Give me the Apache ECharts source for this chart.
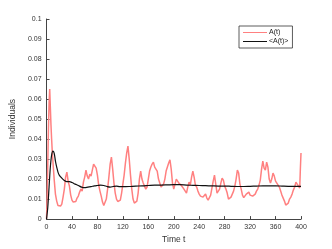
<!DOCTYPE html>
<html><head><meta charset="utf-8">
<script src="https://cdn.jsdelivr.net/npm/echarts@6/dist/echarts.min.js"></script>
<style>html,body{margin:0;padding:0;background:#fff}#c{width:332px;height:249px}</style>
</head><body><div id="c"></div>
<script>
var xTicks = [0,40,80,120,160,200,240,280,320,360,400];
var yTicks = ['0','0.01','0.02','0.03','0.04','0.05','0.06','0.07','0.08','0.09','0.1'];
var seriesNames = ['A(t)','<A(t)>'];
var tA = [0,1,2,3,4,5,6,7,8,9,10,12,14,16,18,20,22,24,26,28,30,32,34,36,38,40,42,44,46,48,50,52,54,56,58,60,62,64,66,68,70,72,74,76,78,80,82,84,86,88,90,92,94,96,98,100,102,104,106,108,110,112,114,116,118,120,122,124,126,128,130,132,134,136,138,140,142,144,146,148,150,152,154,156,158,160,162,164,166,168,170,172,174,176,178,180,182,184,186,188,190,192,194,196,198,200,202,204,206,208,210,212,214,216,218,220,222,224,226,228,230,232,234,236,238,240,242,244,246,248,250,252,254,256,258,260,262,264,266,268,270,272,274,276,278,280,282,284,286,288,290,292,294,296,298,300,302,304,306,308,310,312,314,316,318,320,322,324,326,328,330,332,334,336,338,340,342,344,346,348,350,352,354,356,358,360,362,364,366,368,370,372,374,376,378,380,382,384,386,388,390,392,394,396,398,399,400];
var valA = [0,0.012,0.028,0.045,0.058,0.065,0.056,0.047,0.040,0.034,0.029,0.020,0.0125,0.009,0.0068,0.0060,0.0065,0.0075,0.011,0.015,0.021,0.0235,0.019,0.0165,0.012,0.0095,0.0085,0.0080,0.0088,0.0105,0.0115,0.0135,0.0150,0.0140,0.0185,0.0210,0.0245,0.0215,0.0200,0.0225,0.0215,0.0245,0.0275,0.0265,0.0255,0.0220,0.0170,0.0140,0.0115,0.0085,0.0068,0.0075,0.0100,0.0150,0.0210,0.0275,0.0310,0.0250,0.0180,0.0130,0.0100,0.0088,0.0082,0.0095,0.0130,0.0175,0.0220,0.0280,0.0330,0.0365,0.0300,0.0220,0.0150,0.0100,0.0080,0.0074,0.0090,0.0130,0.0200,0.0240,0.0200,0.0180,0.0165,0.0150,0.0160,0.0200,0.0240,0.0260,0.0275,0.0285,0.0260,0.0255,0.0240,0.0200,0.0180,0.0160,0.0165,0.0175,0.0200,0.0240,0.0260,0.0280,0.0296,0.0250,0.0180,0.0150,0.0175,0.0200,0.0190,0.0180,0.0175,0.0168,0.0160,0.0150,0.0140,0.0130,0.0160,0.0185,0.0170,0.0210,0.0240,0.0210,0.0170,0.0160,0.0140,0.0125,0.0115,0.0120,0.0110,0.0115,0.0125,0.0105,0.0095,0.0092,0.0120,0.0155,0.0190,0.0220,0.0175,0.0130,0.0125,0.0150,0.0180,0.0205,0.0195,0.0165,0.0150,0.0130,0.0100,0.0105,0.0110,0.0115,0.0140,0.0165,0.0200,0.0245,0.0230,0.0175,0.0150,0.0120,0.0107,0.0115,0.0125,0.0120,0.0135,0.0120,0.0125,0.0115,0.0112,0.0125,0.0140,0.0150,0.0170,0.0195,0.0250,0.0290,0.0255,0.0245,0.0285,0.0260,0.0200,0.0180,0.0200,0.0230,0.0215,0.0190,0.0180,0.0170,0.0160,0.0140,0.0120,0.0105,0.0090,0.0070,0.0065,0.0080,0.0100,0.0110,0.0125,0.0145,0.0160,0.0185,0.0175,0.0165,0.0155,0.0250,0.0330];
var tM = [0,2,4,6,8,10,12,14,16,18,20,24,28,32,36,40,45,50,55,60,65,70,75,80,85,90,95,100,105,110,115,120,130,140,150,160,170,180,190,200,210,220,230,240,250,260,270,280,290,300,310,320,330,340,350,360,370,380,390,400];
var valM = [0,0.006,0.016,0.026,0.032,0.034,0.033,0.029,0.026,0.0235,0.022,0.0205,0.0193,0.0187,0.0187,0.0183,0.0175,0.0168,0.0160,0.0157,0.0160,0.0162,0.0166,0.0168,0.0170,0.0168,0.0163,0.0160,0.0163,0.0165,0.0162,0.0162,0.0163,0.0165,0.0166,0.0168,0.0170,0.0170,0.0171,0.0172,0.0172,0.0170,0.0169,0.0168,0.0167,0.0166,0.0165,0.0165,0.0164,0.0163,0.0163,0.0164,0.0165,0.0166,0.0166,0.0166,0.0165,0.0164,0.0164,0.0164];

function pairs(t, v){ return t.map(function(x,i){ return [x, v[i]]; }); }
var FONT = 'Liberation Sans, Arial, sans-serif';
var chart = echarts.init(document.getElementById('c'), null, {renderer:'canvas'});
chart.setOption({
  animation:false,
  grid:{left:43,right:31,top:19,bottom:27,containLabel:false},
  legend:{
    orient:'vertical', left:239, top:26, width:54,
    padding:[3,4,3,4], itemGap:2, itemWidth:24, itemHeight:8,
    borderColor:'#333', borderWidth:0.8, backgroundColor:'#fff',
    textStyle:{fontFamily:FONT, fontSize:7, color:'#222', padding:[0,0,0,-3]},
    data:[{name:seriesNames[0], icon:'path://M0,4 L24,4 L24,5 L0,5 Z'},{name:seriesNames[1], icon:'path://M0,4 L24,4 L24,5 L0,5 Z'}]
  },
  xAxis:{
    type:'value', min:0, max:400, interval:40,
    name:'Time t', nameLocation:'middle', nameGap:15,
    nameTextStyle:{fontFamily:FONT, fontSize:8.5, color:'#333'},
    axisLine:{lineStyle:{color:'#444', width:1}},
    axisTick:{inside:true, length:3, lineStyle:{color:'#444'}},
    axisLabel:{fontFamily:FONT, fontSize:7, color:'#333', margin:4,
      formatter:function(v){ var i = xTicks.indexOf(v); return i>=0 ? String(xTicks[i]) : ''; }},
    splitLine:{show:false}
  },
  yAxis:{
    type:'value', min:0, max:0.1, interval:0.01,
    name:'Individuals', nameLocation:'middle', nameGap:21,
    nameTextStyle:{fontFamily:FONT, fontSize:8.5, color:'#333'},
    axisLine:{show:true, lineStyle:{color:'#444', width:1}},
    axisTick:{show:true, inside:true, length:3, lineStyle:{color:'#444'}},
    axisLabel:{fontFamily:FONT, fontSize:7, color:'#333', margin:5,
      formatter:function(v){ var i = Math.round(v*100); return yTicks[i] || ''; }},
    splitLine:{show:false}
  },
  series:[
    {name:seriesNames[0], type:'line', data:pairs(tA,valA), showSymbol:false, symbol:'none',
     lineStyle:{color:'#ff8080', width:1.5}, itemStyle:{color:'#ff8080'}},
    {name:seriesNames[1], type:'line', data:pairs(tM,valM), showSymbol:false, symbol:'none', smooth:0.3,
     lineStyle:{color:'#111', width:1.2}, itemStyle:{color:'#111'}}
  ]
});
</script></body></html>
